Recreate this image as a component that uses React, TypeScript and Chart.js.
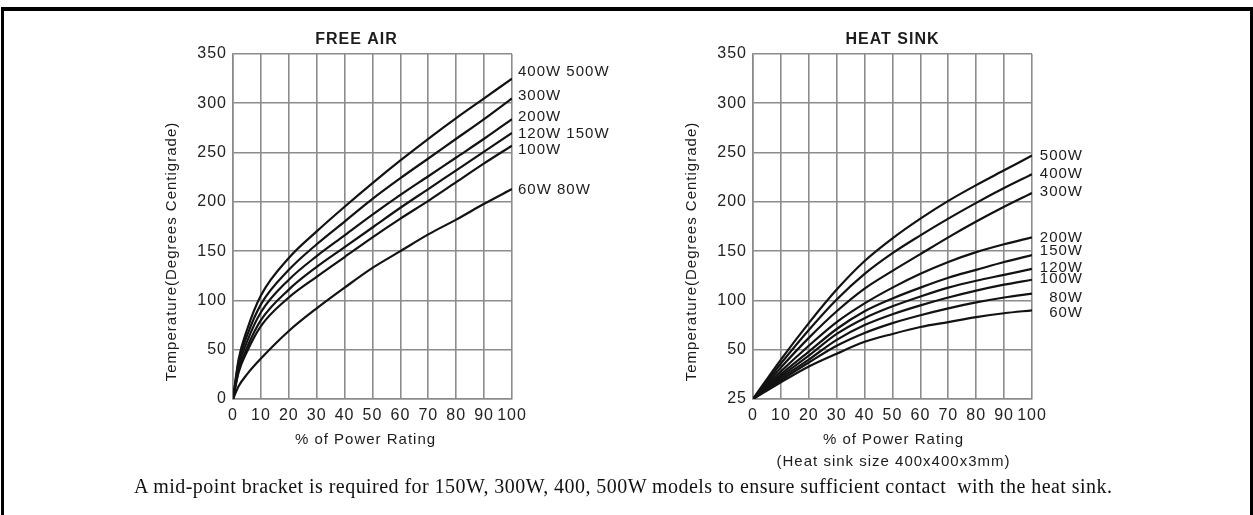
import React, { useEffect, useRef } from "react";
import { Chart, registerables } from "chart.js";
Chart.register(...registerables);

// ---------- data ----------
const powerTicks = [0, 10, 20, 30, 40, 50, 60, 70, 80, 90, 100];
const tempTicks = [0, 50, 100, 150, 200, 250, 300, 350];

// FREE AIR (% of power rating -> temperature °C)
const freeAirPct = [0, 2, 5, 10, 20, 30, 40, 50, 60, 70, 80, 90, 100];
const freeAirNames = ["400W 500W", "300W", "200W", "120W 150W", "100W", "60W 80W"];
const freeAir400_500W = [0, 40, 70, 105, 143, 170, 195, 219, 242, 264, 285, 305, 325];
const freeAir300W = [0, 37, 64, 96, 131, 157, 180, 203, 224, 244, 264, 284, 305];
const freeAir200W = [0, 33, 58, 88, 121, 145, 166, 187, 207, 226, 245, 264, 284];
const freeAir120_150W = [0, 29, 52, 80, 111, 134, 154, 174, 194, 213, 232, 251, 270];
const freeAir100W = [0, 27, 48, 74, 103, 124, 144, 164, 183, 201, 220, 239, 257];
const freeAir60_80W = [0, 13, 25, 41, 69, 92, 113, 133, 150, 167, 182, 198, 213];
const freeAirSeries = [freeAir400_500W, freeAir300W, freeAir200W, freeAir120_150W, freeAir100W, freeAir60_80W];

// HEAT SINK (temperature °C, ambient 25 °C)
const sinkPct = [0, 10, 20, 30, 40, 50, 60, 70, 80, 90, 100];
const sinkNames = ["500W", "400W", "300W", "200W", "150W", "120W", "100W", "80W", "60W"];
const sink500W = [25, 45, 77, 111, 140, 163, 183, 201, 217, 232, 247];
const sink400W = [25, 43, 70, 101, 127, 148, 166, 183, 199, 214, 228];
const sink300W = [25, 41, 62, 89, 112, 130, 147, 164, 180, 195, 209];
const sink200W = [25, 39, 54, 78, 97, 113, 127, 139, 149, 157, 164];
const sink150W = [25, 37.5, 49, 71, 89, 102, 113, 123, 131, 139, 146];
const sink120W = [25, 36.5, 47, 66, 82, 94, 104, 113, 120, 126, 132];
const sink100W = [25, 35.5, 45, 60, 75, 86, 95, 103, 110, 116, 121];
const sink80W = [25, 34.5, 43.5, 54, 67, 77, 85, 92, 98, 103, 107];
const sink60W = [25, 33.5, 41.5, 48, 58, 66, 73, 78, 83, 87, 90];
const sinkSeries = [sink500W, sink400W, sink300W, sink200W, sink150W, sink120W, sink100W, sink80W, sink60W];
// heat-sink axis: bottom gridline is labelled 25 (25..50 stretched over one 50-step)
const sinkTickLabels = ["25", "50", "100", "150", "200", "250", "300", "350"];
const sinkAxis = (t: number) => (t < 50 ? (t - 25) * 2 : t);

const caption =
  "A mid-point bracket is required for 150W, 300W, 400, 500W models to ensure sufficient contact  with the heat sink.";

// ---------- styling / label placement ----------
const FONT = '"Liberation Sans", Arial, sans-serif';
const freeAirLabelDy = [-7, -2, -2, 1, 4, 1];
const sinkLabelDy = [0, 0, -1, 1, -4, -1, -1, 4, 3];

type Cfg = {
  title: string;
  titleDx: number;
  names: string[];
  labelDy: number[];
  labelAlign: "left" | "right";
  labelDx: number;
  xTitles: string[];
  xTitleDx: number;
};

function annotPlugin(cfg: Cfg) {
  return {
    id: "annot",
    beforeDraw(chart: any) {
      try { chart.ctx.letterSpacing = "1px"; } catch (e) {}
    },
    afterDraw(chart: any) {
      const { ctx, chartArea: a } = chart;
      const ys = chart.scales.y;
      const cx = (a.left + a.right) / 2;
      ctx.save();
      try { ctx.letterSpacing = "1px"; } catch (e) {}
      ctx.fillStyle = "#1c1c1c";
      // title
      ctx.font = `bold 16px ${FONT}`;
      ctx.textAlign = "center";
      ctx.textBaseline = "middle";
      ctx.fillText(cfg.title, cx + cfg.titleDx, a.top - 14);
      // x titles
      ctx.font = `15px ${FONT}`;
      cfg.xTitles.forEach((t, i) => {
        ctx.fillText(t, cx + cfg.xTitleDx, a.bottom + 41 + i * 22);
      });
      // y title
      ctx.save();
      ctx.translate(a.left - 61, (a.top + a.bottom) / 2 + 25);
      ctx.rotate(-Math.PI / 2);
      ctx.fillText("Temperature(Degrees Centigrade)", 0, 0);
      ctx.restore();
      // curve labels
      ctx.font = `15px ${FONT}`;
      ctx.textAlign = cfg.labelAlign;
      chart.data.datasets.forEach((ds: any, i: number) => {
        const last = ds.data[ds.data.length - 1];
        const y = ys.getPixelForValue(last.y) + cfg.labelDy[i];
        ctx.fillText(cfg.names[i], a.right + cfg.labelDx, y);
      });
      ctx.restore();
    },
  };
}

function makeConfig(
  pct: number[],
  series: number[][],
  map: (t: number) => number,
  tickLabel: (v: number, i: number) => string,
  cfg: Cfg
): any {
  return {
    type: "line",
    data: {
      datasets: series.map((s, i) => ({
        label: cfg.names[i],
        data: s.map((t, j) => ({ x: pct[j], y: map(t) })),
        borderColor: "#121212",
        borderWidth: 2.2,
        pointRadius: 0,
        fill: false,
        cubicInterpolationMode: "monotone",
      })),
    },
    options: {
      responsive: false,
      animation: false,
      events: [],
      layout: { padding: { left: 0, top: 40, right: 138, bottom: 0 } },
      plugins: { legend: { display: false }, tooltip: { enabled: false }, title: { display: false } },
      scales: {
        x: {
          type: "linear",
          min: 0,
          max: 100,
          afterFit: (s: any) => { s.height = 85; },
          afterBuildTicks: (s: any) => { s.ticks = powerTicks.map((v) => ({ value: v })); },
          ticks: { color: "#222", font: { size: 16, family: FONT }, padding: 7, maxRotation: 0, autoSkip: false },
          grid: { color: "#8c8c8c", lineWidth: 1.6, drawTicks: false },
          border: { color: "#8c8c8c", width: 1.6 },
        },
        y: {
          type: "linear",
          min: 0,
          max: 350,
          afterFit: (s: any) => { s.width = 83; },
          afterBuildTicks: (s: any) => { s.ticks = tempTicks.map((v) => ({ value: v })); },
          ticks: {
            color: "#222",
            font: { size: 16, family: FONT },
            padding: 6,
            autoSkip: false,
            callback: tickLabel,
          },
          grid: { color: "#8c8c8c", lineWidth: 1.6, drawTicks: false },
          border: { color: "#8c8c8c", width: 1.6 },
        },
      },
    },
    plugins: [annotPlugin(cfg)],
  };
}

function ChartCanvas({ config, left, top }: { config: () => any; left: number; top: number }) {
  const ref = useRef<HTMLCanvasElement | null>(null);
  useEffect(() => {
    if (!ref.current) return;
    const chart = new Chart(ref.current, config());
    return () => chart.destroy();
  }, []);
  return (
    <canvas
      ref={ref}
      width={500}
      height={470}
      style={{ position: "absolute", left, top, width: 500, height: 470 }}
    />
  );
}

export default function App() {
  const freeCfg = () =>
    makeConfig(freeAirPct, freeAirSeries, (t) => t, (v) => String(v), {
      title: "FREE AIR",
      titleDx: -16,
      names: freeAirNames,
      labelDy: freeAirLabelDy,
      labelAlign: "left",
      labelDx: 6,
      xTitles: ["% of Power Rating"],
      xTitleDx: -7,
    });
  const sinkCfg = () =>
    makeConfig(sinkPct, sinkSeries, sinkAxis, (_v, i) => sinkTickLabels[i], {
      title: "HEAT SINK",
      titleDx: 0,
      names: sinkNames,
      labelDy: sinkLabelDy,
      labelAlign: "right",
      labelDx: 51,
      xTitles: ["% of Power Rating", "(Heat sink size 400x400x3mm)"],
      xTitleDx: 1,
    });
  return (
    <div
      style={{
        position: "absolute",
        left: 0,
        top: 0,
        width: 1253,
        height: 515,
        background: "#fff",
        overflow: "hidden",
      }}
    >
      <div
        style={{
          position: "absolute",
          left: 1,
          top: 7,
          width: 1246,
          height: 530,
          borderTop: "4px solid #000",
          borderLeft: "3px solid #000",
          borderRight: "3px solid #000",
        }}
      />
      <ChartCanvas config={freeCfg} left={150} top={14} />
      <ChartCanvas config={sinkCfg} left={670} top={14} />
      <div
        style={{
          position: "absolute",
          left: 134,
          top: 474,
          whiteSpace: "pre",
          fontFamily: '"Liberation Serif", "Times New Roman", serif',
          fontSize: 20,
          letterSpacing: "0.45px",
          color: "#111",
          lineHeight: "24px",
        }}
      >
        {caption}
      </div>
    </div>
  );
}
